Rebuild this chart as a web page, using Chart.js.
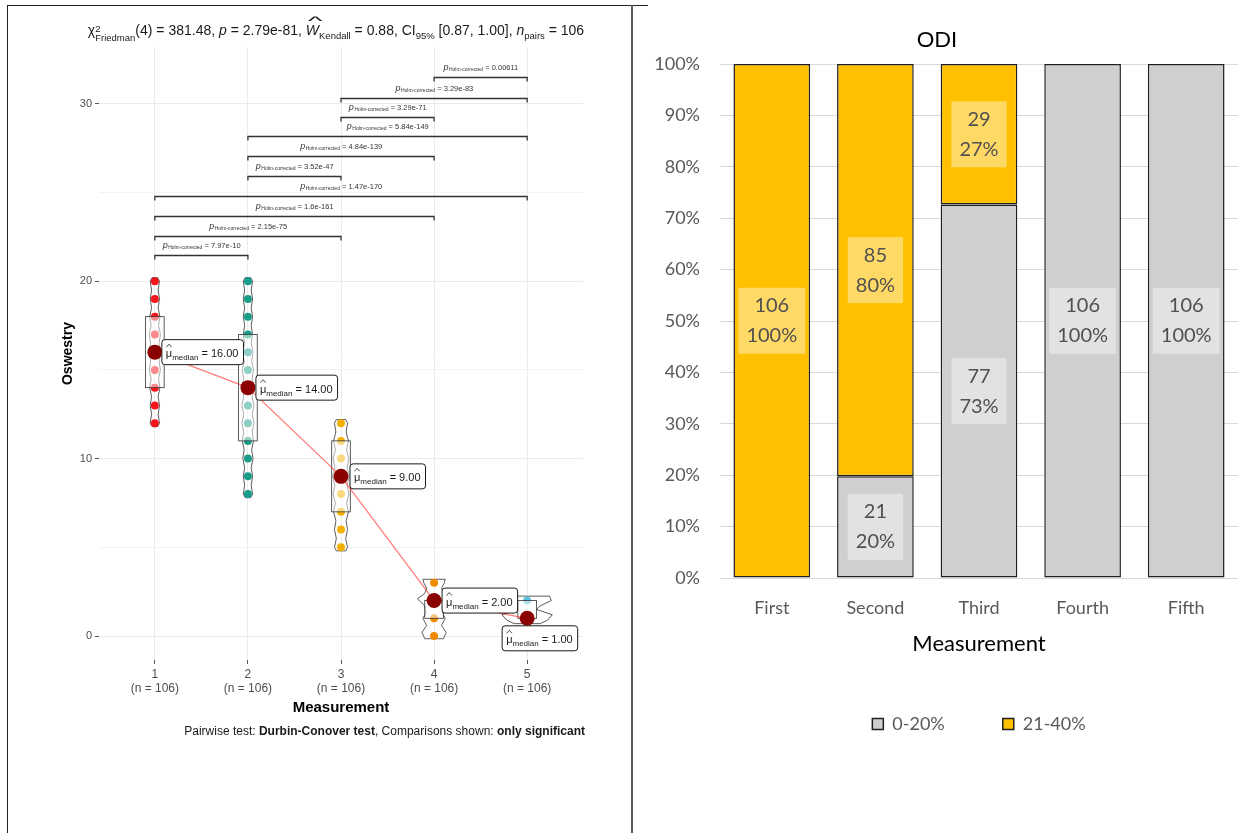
<!DOCTYPE html>
<html>
<head>
<meta charset="utf-8">
<script src="https://cdn.jsdelivr.net/npm/chart.js@4.4.1/dist/chart.umd.min.js"></script>
<style>
  body { margin: 0; background: #fff; width: 1246px; height: 833px; overflow: hidden; position: relative; font-family: "Liberation Sans", Arial, sans-serif; }
  #left { position: absolute; left: 0; top: 0; }
  #right { position: absolute; left: 636px; top: 0; }
  #frame { position: absolute; left: 7px; top: 5px; width: 640px; height: 840px; border-left: 1.5px solid #222; border-top: 1.5px solid #222; z-index: 2; }
  #divider { position: absolute; left: 631px; top: 5px; width: 2px; height: 830px; background: #5a5a5a; z-index: 2; }
  #subtitle { position: absolute; top: 22px; left: 0; width: 672px; text-align: center; font-size: 14px; color: #1a1a1a; white-space: nowrap; z-index: 3; }
  #subtitle sub { font-size: 9.5px; vertical-align: -4px; line-height: 0; }
  .ss { display: inline-block; vertical-align: -6px; font-size: 9.5px; line-height: 9px; text-align: left; }
  .ss span { display: block; }
  .hat { position: relative; display: inline-block; }
  .hat::before { content: "^"; position: absolute; left: 2px; top: -10px; font-style: normal; transform: scale(2.2, 0.9); transform-origin: left; }
  #caption { position: absolute; top: 724px; right: 661px; font-size: 12px; color: #1a1a1a; white-space: nowrap; z-index: 3; }
</style>
</head>
<body>
<div id="frame"></div>
<div id="divider"></div>
<div id="subtitle">χ<span class="ss"><span>2</span><span>Friedman</span></span>(4) = 381.48, <i>p</i> = 2.79e-81, <span class="hat"><i>W</i></span><sub>Kendall</sub> = 0.88, CI<sub>95%</sub> [0.87, 1.00], <i>n</i><sub>pairs</sub> = 106</div>
<div id="caption">Pairwise test: <b>Durbin-Conover test</b>, Comparisons shown: <b>only significant</b></div>
<canvas id="left" width="632" height="833"></canvas>
<canvas id="right" width="610" height="833"></canvas>
<script>
// ---- left panel: Oswestry by measurement ----
const groups = [1, 2, 3, 4, 5];
const groupCounts = [106, 106, 106, 106, 106];
const medians = [16, 14, 9, 2, 1];
const q1 = [14, 11, 7, 1, 1];
const q3 = [18, 17, 11, 2, 2];
const pointValues = [
  [12, 13, 14, 15, 17, 18, 19, 20],
  [8, 9, 10, 11, 12, 13, 15, 16, 17, 18, 19, 20],
  [5, 6, 7, 8, 10, 11, 12],
  [0, 1, 3],
  [2]
];
const groupColors = ['#F5141A', '#1A9C8A', '#F2B000', '#EE8A00', '#5CC3DF'];

// violin outlines: y levels and half widths (x units)
const violinLevels = [
  [11.8, 12, 12.5, 13, 13.5, 14, 14.5, 15, 15.5, 16, 16.5, 17, 17.5, 18, 18.5, 19, 19.5, 20, 20.2],
  [7.8, 8, 8.5, 9, 9.5, 10, 10.5, 11, 11.5, 12, 12.5, 13, 13.5, 14, 14.5, 15, 15.5, 16, 16.5, 17, 17.5, 18, 18.5, 19, 19.5, 20, 20.2],
  [4.8, 5, 5.5, 6, 6.5, 7, 7.5, 8, 8.5, 9, 9.5, 10, 10.5, 11, 11.5, 12, 12.2],
  [-0.15, 0.2, 0.6, 1.0, 1.3, 1.7, 2.1, 2.4, 2.7, 3.0, 3.2],
  [0.7, 0.9, 1.2, 1.5, 1.7, 2.0, 2.25]
];
const violinWidths = [
  [0.03, 0.05, 0.035, 0.05, 0.035, 0.055, 0.04, 0.06, 0.045, 0.065, 0.045, 0.06, 0.04, 0.055, 0.035, 0.05, 0.035, 0.05, 0.03],
  [0.03, 0.05, 0.035, 0.05, 0.035, 0.055, 0.04, 0.06, 0.045, 0.065, 0.045, 0.065, 0.045, 0.065, 0.045, 0.06, 0.04, 0.055, 0.035, 0.05, 0.035, 0.05, 0.035, 0.05, 0.035, 0.05, 0.03],
  [0.05, 0.07, 0.05, 0.07, 0.055, 0.08, 0.06, 0.085, 0.065, 0.09, 0.065, 0.085, 0.06, 0.08, 0.055, 0.07, 0.05],
  [0.1, 0.13, 0.08, 0.12, 0.09, 0.1, 0.18, 0.1, 0.08, 0.11, 0.12],
  [0.14, 0.22, 0.27, 0.1, 0.14, 0.26, 0.24]
];

// pairwise comparisons
const pairFrom = [1, 1, 1, 1, 2, 2, 2, 3, 3, 4];
const pairTo = [2, 3, 4, 5, 3, 4, 5, 4, 5, 5];
const pairP = ['7.97e-10', '2.15e-75', '1.6e-161', '1.47e-170', '3.52e-47', '4.84e-139', '5.84e-149', '3.29e-71', '3.29e-83', '0.00611'];
const pairLevel = [21.45, 22.56, 23.69, 24.82, 25.91, 27.03, 28.16, 29.23, 30.33, 31.49];

const yTickValues = [0, 5, 10, 15, 20, 25, 30];
const FONT = '"Liberation Sans", Arial, sans-serif';

const pointData = [];
const pointColors = [];
groups.forEach((g, i) => pointValues[i].forEach(v => {
  pointData.push({ x: g, y: v });
  pointColors.push(groupColors[i]);
}));

function roundRect(ctx, x, y, w, h, r) {
  ctx.beginPath();
  ctx.moveTo(x + r, y);
  ctx.arcTo(x + w, y, x + w, y + h, r);
  ctx.arcTo(x + w, y + h, x, y + h, r);
  ctx.arcTo(x, y + h, x, y, r);
  ctx.arcTo(x, y, x + w, y, r);
  ctx.closePath();
}

function drawMedianLabel(ctx, left, cy, value) {
  const main = '11px ' + FONT, small = '8px ' + FONT;
  ctx.font = main;
  const wMu = ctx.measureText('μ').width;
  const rest = ' = ' + value.toFixed(2);
  const wRest = ctx.measureText(rest).width;
  ctx.font = small;
  const wSub = ctx.measureText('median').width;
  const w = wMu + wSub + wRest + 9, h = 25;
  roundRect(ctx, left, cy - h / 2, w, h, 3);
  ctx.fillStyle = '#fff';
  ctx.fill();
  ctx.strokeStyle = '#1a1a1a';
  ctx.lineWidth = 1;
  ctx.stroke();
  const base = cy + 5;
  let tx = left + 4;
  ctx.fillStyle = '#1a1a1a';
  ctx.textAlign = 'left';
  ctx.textBaseline = 'alphabetic';
  ctx.font = main;
  ctx.fillText('μ', tx, base);
  // hat over mu
  ctx.beginPath();
  ctx.moveTo(tx + 0.5, base - 10);
  ctx.lineTo(tx + wMu / 2, base - 13);
  ctx.lineTo(tx + wMu - 0.5, base - 10);
  ctx.lineWidth = 0.8;
  ctx.stroke();
  tx += wMu;
  ctx.font = small;
  ctx.fillText('median', tx, base + 3);
  tx += wSub;
  ctx.font = main;
  ctx.fillText(rest, tx, base);
}

function drawPLabel(ctx, cx, base, val) {
  const fp = 'italic 9px ' + FONT, fs = '5px ' + FONT, fv = '7.5px ' + FONT;
  ctx.font = fp; const wp = ctx.measureText('p').width;
  ctx.font = fs; const ws = ctx.measureText('Holm-corrected').width;
  const rest = ' = ' + val;
  ctx.font = fv; const wv = ctx.measureText(rest).width;
  let tx = cx - (wp + ws + wv) / 2;
  ctx.textAlign = 'left';
  ctx.textBaseline = 'alphabetic';
  ctx.font = fp; ctx.fillText('p', tx, base); tx += wp + 0.5;
  ctx.font = fs; ctx.fillText('Holm-corrected', tx, base + 1.5); tx += ws;
  ctx.font = fv; ctx.fillText(rest, tx, base);
}

const labelShift = [[7, 0], [8, 0], [9, 0], [8, 0], [-25, 20]];

const leftDecor = {
  id: 'leftDecor',
  beforeDatasetsDraw(chart) {
    const { ctx, scales: { x, y } } = chart;
    ctx.save();
    ctx.strokeStyle = '#333';
    ctx.lineWidth = 0.8;
    groups.forEach((g, i) => {
      const lv = violinLevels[i], wd = violinWidths[i];
      ctx.beginPath();
      lv.forEach((v, k) => {
        const px = x.getPixelForValue(g + wd[k]), py = y.getPixelForValue(v);
        if (k === 0) ctx.moveTo(x.getPixelForValue(g - wd[0]), py);
        ctx.lineTo(px, py);
      });
      for (let k = lv.length - 1; k >= 0; k--) ctx.lineTo(x.getPixelForValue(g - wd[k]), y.getPixelForValue(lv[k]));
      ctx.closePath();
      ctx.stroke();
    });
    ctx.restore();
  },
  afterDatasetDraw(chart, args) {
    if (args.index !== 0) return;
    const { ctx, scales: { x, y } } = chart;
    ctx.save();
    groups.forEach((g, i) => {
      const l = x.getPixelForValue(g - 0.1), r = x.getPixelForValue(g + 0.1);
      const t = y.getPixelForValue(q3[i]), b = y.getPixelForValue(q1[i]);
      ctx.fillStyle = 'rgba(255,255,255,0.5)';
      ctx.fillRect(l, t, r - l, b - t);
      ctx.strokeStyle = '#333';
      ctx.lineWidth = 0.8;
      ctx.strokeRect(l, t, r - l, b - t);
    });
    ctx.restore();
  },
  afterDatasetsDraw(chart) {
    const { ctx, scales: { x, y } } = chart;
    ctx.save();
    // median labels
    groups.forEach((g, i) => {
      drawMedianLabel(ctx, x.getPixelForValue(g) + labelShift[i][0], y.getPixelForValue(medians[i]) + labelShift[i][1], medians[i]);
    });
    // significance brackets
    ctx.strokeStyle = '#333';
    ctx.fillStyle = '#333';
    ctx.lineWidth = 1.3;
    pairFrom.forEach((a, i) => {
      const x1 = x.getPixelForValue(a), x2 = x.getPixelForValue(pairTo[i]);
      const yy = Math.round(y.getPixelForValue(pairLevel[i])) + 0.5;
      ctx.beginPath();
      ctx.moveTo(x1, yy + 4);
      ctx.lineTo(x1, yy);
      ctx.lineTo(x2, yy);
      ctx.lineTo(x2, yy + 4);
      ctx.stroke();
      drawPLabel(ctx, (x1 + x2) / 2, yy - 8, pairP[i]);
    });
    ctx.restore();
  }
};

new Chart(document.getElementById('left'), {
  type: 'scatter',
  data: {
    datasets: [
      { data: pointData, pointBackgroundColor: pointColors, pointBorderWidth: 0, pointRadius: 4, order: 3 },
      { type: 'line', data: groups.map((g, i) => ({ x: g, y: medians[i] })), showLine: true,
        borderColor: 'rgba(255,40,40,0.6)', borderWidth: 1.3, pointRadius: 0, order: 2 },
      { data: groups.map((g, i) => ({ x: g, y: medians[i] })), pointBackgroundColor: '#8B0000',
        pointBorderWidth: 0, pointRadius: 7.5, order: 1 }
    ]
  },
  options: {
    responsive: false,
    animation: false,
    devicePixelRatio: 1,
    layout: { padding: { left: 60, right: 49, top: 47, bottom: 116 } },
    plugins: { legend: { display: false }, tooltip: { enabled: false } },
    scales: {
      x: {
        type: 'linear', min: 0.4, max: 5.6,
        afterBuildTicks: s => { s.ticks = groups.map(v => ({ value: v })); },
        afterFit: s => { s.height = 57; },
        border: { display: false },
        grid: { color: '#EBEBEB', lineWidth: 1, tickLength: 4, tickColor: '#555' },
        ticks: { color: '#4D4D4D', font: { family: FONT, size: 12 }, padding: 3, maxRotation: 0, autoSkip: false,
          callback: v => [String(v), '(n = ' + groupCounts[groups.indexOf(v)] + ')'] },
        title: { display: true, text: 'Measurement', color: '#000', font: { family: FONT, size: 15, weight: 'bold' }, padding: 0 }
      },
      y: {
        min: -1.35, max: 33.2,
        afterBuildTicks: s => { s.ticks = yTickValues.map(v => ({ value: v })); },
        afterFit: s => { s.width = 39; },
        border: { display: false },
        grid: {
          color: c => (c.tick && c.tick.value % 10 === 0 ? '#EBEBEB' : '#F3F3F3'),
          lineWidth: 1, tickLength: 4,
          tickColor: c => (c.tick && c.tick.value % 10 === 0 ? '#555' : 'rgba(0,0,0,0)')
        },
        ticks: { color: '#4D4D4D', font: { family: FONT, size: 11 }, padding: 3,
          callback: v => (v % 10 === 0 ? String(v) : '') },
        title: { display: true, text: 'Oswestry', color: '#000', font: { family: FONT, size: 14, weight: 'bold' }, padding: 0 }
      }
    }
  },
  plugins: [leftDecor]
});

// ---- right panel: ODI stacked 100% bars ----
const categories = ['First', 'Second', 'Third', 'Fourth', 'Fifth'];
const lowCounts = [0, 21, 77, 106, 106];
const highCounts = [106, 85, 29, 0, 0];
const totals = categories.map((_, i) => lowCounts[i] + highCounts[i]);
const toPct = arr => arr.map((c, i) => c / totals[i] * 100);
const XL_FONT = 'Lato, "Open Sans", sans-serif';

const barLabels = {
  id: 'barLabels',
  afterDatasetsDraw(chart) {
    const ctx = chart.ctx;
    ctx.save();
    ctx.font = '20px ' + XL_FONT;
    ctx.textAlign = 'center';
    ctx.textBaseline = 'middle';
    chart.data.datasets.forEach((ds, di) => {
      chart.getDatasetMeta(di).data.forEach((bar, i) => {
        const c = ds.counts[i];
        if (!c) return;
        const lines = [String(c), Math.round(ds.data[i]) + '%'];
        const w = Math.max(...lines.map(t => ctx.measureText(t).width)) + 16, h = 66;
        const cy = (bar.y + bar.base) / 2;
        ctx.fillStyle = 'rgba(255,255,255,0.4)';
        ctx.fillRect(bar.x - w / 2, cy - h / 2, w, h);
        ctx.fillStyle = '#505050';
        ctx.fillText(lines[0], bar.x, cy - 15);
        ctx.fillText(lines[1], bar.x, cy + 15);
      });
    });
    ctx.restore();
  }
};

new Chart(document.getElementById('right'), {
  type: 'bar',
  data: {
    labels: categories,
    datasets: [
      { label: '0-20%', data: toPct(lowCounts), counts: lowCounts, backgroundColor: '#D0CECE',
        borderColor: '#1F1F1F', borderWidth: 1.5, borderSkipped: false },
      { label: '21-40%', data: toPct(highCounts), counts: highCounts, backgroundColor: '#FFC000',
        borderColor: '#1F1F1F', borderWidth: 1.5, borderSkipped: false }
    ]
  },
  options: {
    responsive: false,
    animation: false,
    devicePixelRatio: 1,
    barPercentage: 0.74,
    categoryPercentage: 1,
    layout: { padding: { left: 0, right: 8, top: 0, bottom: 90 } },
    plugins: {
      tooltip: { enabled: false },
      title: { display: true, text: 'ODI', color: '#000', font: { family: XL_FONT, size: 22, weight: 'normal' },
        padding: { top: 27, bottom: 10.6 } },
      legend: {
        position: 'bottom', fullSize: false,
        labels: { color: '#595959', font: { family: XL_FONT, size: 18 }, boxWidth: 11, boxHeight: 11, padding: 58 }
      }
    },
    scales: {
      x: {
        stacked: true,
        afterFit: s => { s.height = 79; },
        grid: { display: false, drawTicks: false },
        border: { display: false },
        ticks: { color: '#595959', font: { family: XL_FONT, size: 18 }, padding: 19 },
        title: { display: true, text: 'Measurement', color: '#000', font: { family: XL_FONT, size: 22 }, padding: 0 }
      },
      y: {
        stacked: true, min: 0, max: 100,
        afterFit: s => { s.width = 84; },
        grid: { color: '#D9D9D9', lineWidth: 1, drawTicks: false },
        border: { display: false },
        ticks: { stepSize: 10, color: '#595959', font: { family: XL_FONT, size: 18 }, padding: 20,
          callback: v => v + '%' }
      }
    }
  },
  plugins: [barLabels]
});
</script>
</body>
</html>
